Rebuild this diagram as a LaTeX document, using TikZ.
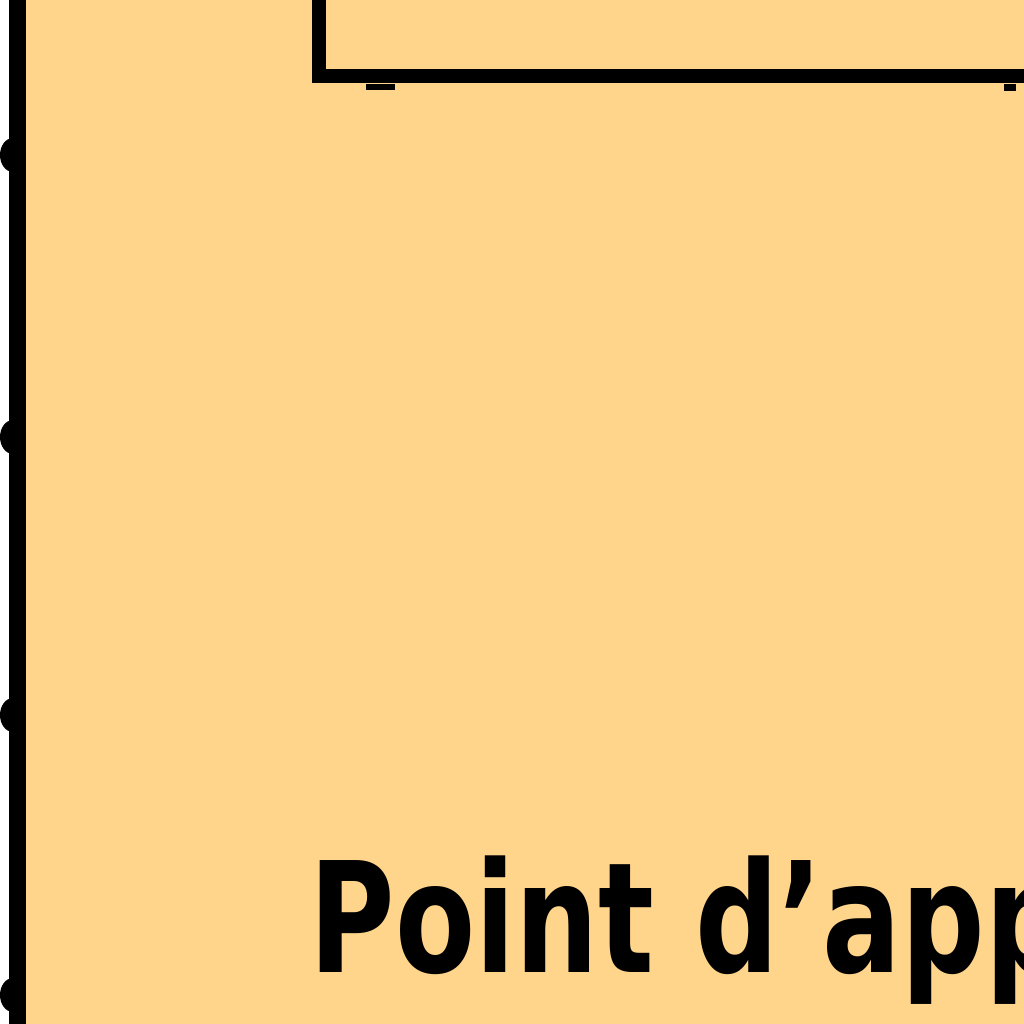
\documentclass[tikz,border=0pt]{standalone}
\usepackage{fontspec}
\setmainfont{DejaVu Sans}
\usetikzlibrary{positioning}
\definecolor{panelbg}{RGB}{255,213,139}

\begin{document}
\begin{tikzpicture}[
  rail/.style={line width=0.17cm},
  frame/.style={line width=0.14cm},
  knob/.style={fill=black},
  caption/.style={anchor=base west,inner sep=0pt,font=\bfseries\fontsize{43.7}{50}\selectfont}
]
  \useasboundingbox (0,0) rectangle (10.24,10.24);
  \clip (0,0) rectangle (10.24,10.24);
  \fill[white] (0,0) rectangle (0.09,10.24);
  \fill[panelbg] (0.09,0) rectangle (10.24,10.24);

  % left rail with its knobs
  \draw[rail] (0.175,-0.2) -- (0.175,10.5);
  \foreach \y in {155,437,715,995}
    \fill[knob] (0.13,{(1024-\y)/100}) ellipse (0.13 and 0.17);

  % box at top
  \draw[frame] (3.19,10.5) -- (3.19,9.475) -- (10.5,9.475);
  \fill[knob] (3.66,9.40) rectangle (3.95,9.34);
  \fill[knob] (10.04,9.40) rectangle (10.16,9.33);

  \node[caption] (label) at (3.09,0.51) {\scalebox{0.76}[1]{Point d’app}};
\end{tikzpicture}
\end{document}
